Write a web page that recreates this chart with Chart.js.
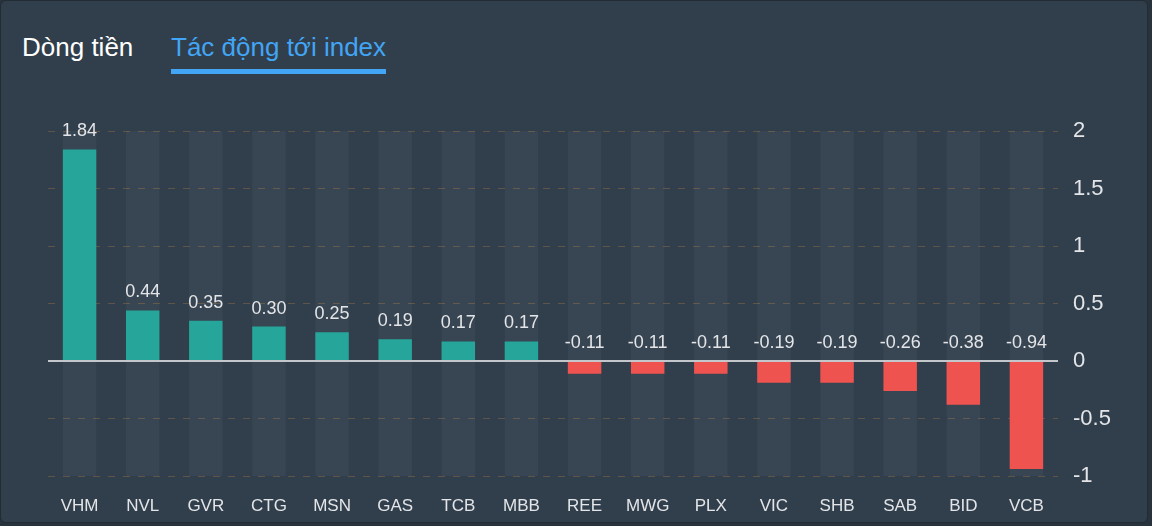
<!DOCTYPE html>
<html>
<head>
<meta charset="utf-8">
<script src="https://cdn.jsdelivr.net/npm/chart.js@4.4.0/dist/chart.umd.min.js"></script>
<style>
  html, body {
    margin: 0;
    padding: 0;
    width: 1152px;
    height: 526px;
    background: #27323c;
    overflow: hidden;
    font-family: "Liberation Sans", Arial, sans-serif;
  }
  .panel {
    position: absolute;
    left: 0;
    top: 0;
    width: 1146px;
    height: 521px;
    background: #313f4c;
    border: 1px solid #222c35;
    border-radius: 6px;
  }
  .tab {
    position: absolute;
    top: 30px;
    font-size: 26px;
    line-height: 32px;
    white-space: nowrap;
  }
  .tab.flow { left: 21px; color: #ffffff; }
  .tab.impact { left: 170px; color: #42a5f5; }
  .tab.impact::after {
    content: "";
    position: absolute;
    left: 0;
    right: 0;
    top: 38px;
    height: 5px;
    background: #42a5f5;
  }
  .chart-wrap {
    position: absolute;
    left: 0;
    top: 100px;
    width: 1140px;
    height: 420px;
  }
</style>
</head>
<body>
<div class="panel">
  <div class="tab flow">Dòng tiền</div>
  <div class="tab impact">Tác động tới index</div>
  <div class="chart-wrap"><canvas id="impactChart"></canvas></div>
</div>
<script>
const tickers = ["VHM", "NVL", "GVR", "CTG", "MSN", "GAS", "TCB", "MBB", "REE", "MWG", "PLX", "VIC", "SHB", "SAB", "BID", "VCB"];
const impactValues = [1.84, 0.44, 0.35, 0.30, 0.25, 0.19, 0.17, 0.17, -0.11, -0.11, -0.11, -0.19, -0.19, -0.26, -0.38, -0.94];
const axisMin = -1;
const axisMax = 2;
const axisStep = 0.5;

const colors = {
  up: "#26a69a",
  down: "#ef5350",
  band: "rgba(255, 255, 255, 0.035)",
  text: "#e3e5e8",
  grid: "rgba(125, 100, 70, 0.6)",
  zero: "#c3c7cb",
};

// labels sit above the bar top, or above the zero line for negative bars
const valueLabels = {
  id: "valueLabels",
  afterDatasetsDraw(chart) {
    const ctx = chart.ctx;
    const meta = chart.getDatasetMeta(1);
    const yScale = chart.scales.y;
    const zeroY = yScale.getPixelForValue(0);

    ctx.save();
    ctx.strokeStyle = colors.zero;
    ctx.lineWidth = 2;
    ctx.beginPath();
    ctx.moveTo(chart.chartArea.left, zeroY);
    ctx.lineTo(chart.chartArea.right, zeroY);
    ctx.stroke();

    ctx.fillStyle = colors.text;
    ctx.font = '18px "Liberation Sans", Arial, sans-serif';
    ctx.textAlign = "center";
    ctx.textBaseline = "alphabetic";
    meta.data.forEach((bar, i) => {
      const top = Math.min(bar.y, zeroY);
      ctx.fillText(impactValues[i].toFixed(2), bar.x, top - 13);
    });
    ctx.restore();
  },
};

const canvas = document.getElementById("impactChart");

new Chart(canvas.getContext("2d"), {
  type: "bar",
  data: {
    labels: tickers,
    datasets: [
      {
        label: "band",
        data: tickers.map(() => [axisMin, axisMax]),
        backgroundColor: colors.band,
        borderWidth: 0,
        barPercentage: 0.53,
        categoryPercentage: 1,
        grouped: false,
        order: 2,
      },
      {
        label: "Tác động",
        data: impactValues,
        backgroundColor: impactValues.map((v) => (v >= 0 ? colors.up : colors.down)),
        borderWidth: 0,
        barPercentage: 0.53,
        categoryPercentage: 1,
        grouped: false,
        order: 1,
      },
    ],
  },
  options: {
    responsive: true,
    maintainAspectRatio: false,
    animation: false,
    layout: {
      padding: { left: 47, top: 30, right: 0, bottom: 0 },
    },
    plugins: {
      legend: { display: false },
      tooltip: { enabled: false },
    },
    scales: {
      x: {
        grid: { display: false },
        border: { display: false },
        ticks: {
          color: colors.text,
          padding: 12,
          font: { family: '"Liberation Sans", Arial, sans-serif', size: 17 },
        },
        afterFit(scale) {
          scale.height = 45;
        },
      },
      y: {
        position: "right",
        min: axisMin,
        max: axisMax,
        border: { display: false, dash: [7, 8] },
        grid: {
          drawTicks: false,
          color: (context) => (context.tick && context.tick.value === 0 ? "rgba(0,0,0,0)" : colors.grid),
          lineWidth: 1,
        },
        ticks: {
          stepSize: axisStep,
          color: colors.text,
          padding: 15,
          font: { family: '"Liberation Sans", Arial, sans-serif', size: 22 },
          callback: (value) => String(value),
        },
        afterFit(scale) {
          scale.width = 83;
        },
      },
    },
  },
  plugins: [valueLabels],
});
</script>
</body>
</html>
